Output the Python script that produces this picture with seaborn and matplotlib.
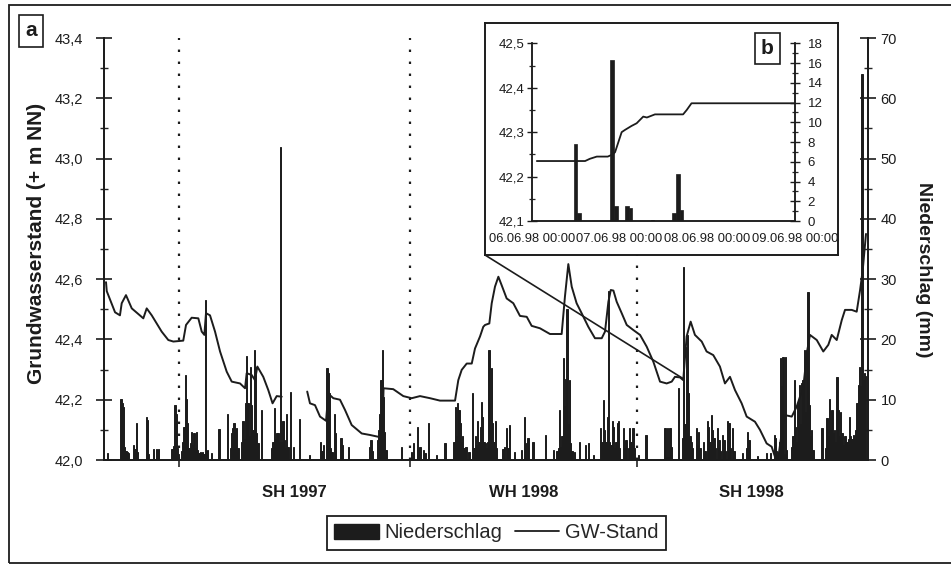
import matplotlib
matplotlib.use("Agg")
import matplotlib.pyplot as plt
import matplotlib.transforms as mtransforms
import numpy as np
import pandas as pd
import seaborn as sns
from matplotlib.ticker import MultipleLocator, FuncFormatter, FixedLocator
from matplotlib.patches import Patch, Rectangle, ConnectionPatch
from matplotlib.lines import Line2D

sns.set_style("white")
plt.rcParams["font.family"] = ["Liberation Sans", "DejaVu Sans"]

# ---------------- data (days since 04.03.1997) ----------------
rain_day = [1, 12, 13, 14, 15, 16, 17, 18, 22, 23, 24, 25, 32, 33, 34, 38, 40, 42,
            52, 53, 54, 55, 56, 57, 58, 60, 61, 62, 63, 64, 65, 66, 67, 68, 69, 70, 71, 72, 73, 74, 75, 76, 77, 78, 79, 80, 81, 84,
            90, 97, 99, 100, 101, 102, 103, 104, 105, 108, 109, 110, 111, 112, 113, 114, 115, 116, 117, 118, 119, 120, 121, 124,
            132, 133, 134, 135, 136, 137, 138, 139, 140, 141, 142, 143, 144, 145, 147, 149, 154, 162, 171, 172, 173,
            176, 177, 178, 179, 180, 182, 183, 187, 188, 193, 210, 211, 212, 216, 217, 218, 219, 220, 221, 222, 223, 235,
            243, 245, 248, 250, 253, 254, 257, 263, 270, 277, 278, 279, 280, 281, 282, 283, 284, 285, 286, 287, 289,
            292, 293, 294, 295, 296, 297, 298, 299, 300, 301, 302, 303, 304, 305, 306, 307, 308, 309, 310, 311, 316, 317, 319, 320, 321, 325,
            331, 333, 334, 336, 340, 350, 356, 359, 360, 361, 362, 363, 364, 365, 366, 367, 368, 369, 370, 371, 373, 377, 382, 384, 388,
            394, 395, 396, 397, 398, 399, 400, 401, 402, 403, 404, 405, 406, 407, 408, 409, 412, 413, 414, 416, 417, 418, 419, 420, 421, 424, 430,
            445, 446, 447, 448, 449, 450, 456, 459, 460, 461, 462, 463, 464, 465, 466, 467, 470, 471, 472, 473, 476, 477,
            479, 480, 481, 482, 483, 484, 485, 487, 488, 489, 491, 492, 493, 495, 496, 497, 499, 500, 507, 510, 511, 512, 519, 526, 529,
            532, 533, 534, 536, 537, 538, 539, 540, 541, 542, 546, 547, 548, 549, 550, 551, 552, 553, 554, 555, 556, 557, 558, 559, 560, 561, 562, 563,
            570, 573, 574, 575, 576, 577, 578, 579, 580, 581, 582, 583, 584, 585, 586, 587, 588, 589, 590, 591, 592, 593, 594, 595, 596, 597, 598, 599, 600, 601, 602, 603, 604, 605]
rain_mm = [1.1, 10.2, 9.4, 8.8, 2.2, 1.5, 1.4, 1.2, 2.5, 1.8, 6.1, 1.4, 7.2, 6.6, 1.0, 1.9, 1.9, 1.9,
           1.9, 1.9, 2.4, 9.1, 7.7, 2.0, 1.0, 1.5, 3.0, 5.5, 14.1, 10.2, 6.1, 2.0, 2.8, 4.7, 2.5, 4.4, 2.0, 4.7, 1.7, 1.2, 1.4, 1.2, 1.4, 1.0, 26.5, 1.5, 1.7, 1.2,
           5.1, 7.7, 2.0, 4.5, 5.3, 6.1, 5.0, 5.3, 2.0, 3.0, 6.4, 3.5, 9.4, 17.2, 9.4, 4.0, 15.5, 9.1, 5.0, 18.2, 15.5, 4.4, 2.8, 8.3,
           2.0, 3.0, 8.7, 3.5, 4.4, 4.4, 3.0, 52.0, 3.0, 6.4, 3.3, 2.0, 7.7, 2.2, 11.3, 2.2, 6.8, 0.8, 3.0, 1.5, 2.5,
           15.2, 14.4, 11.1, 2.0, 1.4, 7.7, 4.4, 3.6, 2.5, 2.2, 2.2, 3.3, 1.5, 3.3, 5.0, 7.7, 13.3, 18.2, 10.5, 4.7, 1.7, 2.2,
           1.4, 2.8, 5.5, 2.2, 1.7, 1.1, 6.1, 0.8, 2.8, 3.0, 8.8, 4.0, 9.4, 8.3, 6.1, 3.0, 3.9, 2.0, 2.2, 2.2, 1.4,
           11.1, 2.0, 3.9, 2.5, 6.4, 3.0, 5.5, 9.7, 7.2, 3.0, 2.8, 2.0, 3.0, 18.2, 5.0, 15.2, 6.1, 3.0, 6.4, 2.0, 1.9, 2.2, 5.3, 2.0, 5.8, 1.4,
           1.7, 7.2, 2.8, 3.6, 3.0, 4.1, 1.7, 1.5, 2.0, 8.3, 2.2, 4.0, 16.9, 9.0, 13.5, 25.0, 6.0, 13.3, 2.8, 1.5, 1.4, 3.0, 2.5, 2.8, 0.8,
           5.3, 3.0, 9.9, 5.0, 3.0, 7.2, 28.0, 3.0, 2.5, 6.4, 5.5, 2.0, 3.0, 6.1, 6.4, 2.0, 5.3, 2.0, 3.3, 2.0, 5.3, 3.0, 5.3, 5.3, 2.0, 0.8, 4.1,
           5.3, 0.5, 5.3, 0.5, 5.3, 2.2, 11.9, 3.6, 32.0, 6.0, 18.8, 20.7, 11.1, 3.9, 3.0, 2.0, 5.3, 2.5, 4.7, 2.0, 3.0, 1.5,
           6.4, 5.5, 3.0, 7.5, 5.0, 3.6, 2.0, 5.3, 3.3, 1.5, 4.1, 3.3, 1.5, 6.4, 6.1, 2.0, 5.3, 1.5, 1.1, 2.0, 4.7, 3.3, 0.6, 1.1, 1.1,
           4.1, 3.6, 1.5, 3.0, 16.9, 12.2, 17.1, 1.0, 17.1, 1.7, 2.2, 4.0, 13.3, 5.5, 3.0, 9.4, 12.4, 6.0, 12.7, 13.3, 18.2, 8.0, 18.2, 27.9, 9.1, 4.0, 5.0, 1.7,
           5.3, 2.0, 6.9, 4.0, 10.2, 5.0, 8.3, 4.4, 5.0, 3.0, 13.8, 8.3, 4.0, 8.0, 4.4, 2.5, 3.9, 3.9, 3.0, 3.5, 7.2, 3.9, 3.5, 4.1, 3.5, 5.0, 9.4, 12.4, 15.5, 12.2, 64.0, 13.3, 14.4, 14.0]

gw1_day = [0, 0.6, 7.2, 11.1, 12.5, 15.9, 20.5, 29.7, 32.4, 36.4,
           44.3, 49.6, 53.6, 61.5, 63.7, 68.2, 73.5, 76.2, 78.3, 79.6,
           82.8, 86.8, 90.8, 96.1, 100.1, 106.7, 110.7, 112.0, 116.0, 118.6,
           120.5, 125.2, 129.2, 132.6, 135.9, 139.9]
gw1_level = [42.59, 42.56, 42.49, 42.48, 42.52, 42.547, 42.503, 42.47, 42.503, 42.48,
             42.426, 42.398, 42.393, 42.396, 42.448, 42.472, 42.47, 42.426, 42.415, 42.487,
             42.48, 42.426, 42.36, 42.293, 42.26, 42.254, 42.238, 42.288, 42.282, 42.265,
             42.31, 42.276, 42.232, 42.188, 42.212, 42.21]
gw2_day = [160.2, 162.4, 166.4, 170.4, 175.2, 177.0, 181.0, 186.3, 190.3, 195.6,
           203.6, 210.2, 216.8, 220.0, 221.0, 228.7, 236.7, 243.4, 250.0, 258.0,
           265.9, 277.9, 280.5, 283.2, 287.2, 291.2, 293.8, 297.8, 300.4, 301.8,
           305.2, 307.1, 309.7, 312.4, 315.0, 319.0, 324.3, 329.6, 335.0, 338.9,
           345.5, 353.5, 362.8, 365.4, 368.1, 370.8, 374.7, 378.7, 384.0, 389.3,
           394.7, 397.3, 400.0, 401.9, 404.0, 406.6, 410.6, 414.6, 419.9, 425.2,
           430.5, 435.8, 441.1, 446.4, 450.4, 453.0, 457.0, 459.6, 462.3, 465.5,
           468.9, 474.3, 478.2, 483.5, 488.8, 492.8, 496.8, 500.8, 506.1, 510.1,
           516.7, 520.7, 526.0, 530.0, 532.6, 535.0, 539.0, 540.6, 546.0, 549.9,
           555.2, 558.4, 560.5, 565.9, 571.1, 575.1, 577.8, 581.8, 585.8, 588.4,
           593.7, 597.7, 600.4, 602.5, 605.1]
gw2_level = [42.227, 42.188, 42.182, 42.144, 42.13, 42.22, 42.205, 42.2, 42.166, 42.116,
             42.088, 42.083, 42.077, 42.08, 42.238, 42.235, 42.212, 42.205, 42.212, 42.205,
             42.197, 42.197, 42.265, 42.299, 42.32, 42.32, 42.37, 42.41, 42.442, 42.448,
             42.453, 42.52, 42.575, 42.608, 42.58, 42.536, 42.52, 42.478, 42.475, 42.445,
             42.437, 42.418, 42.418, 42.542, 42.65, 42.575, 42.52, 42.487, 42.442, 42.404,
             42.404, 42.426, 42.525, 42.564, 42.562, 42.525, 42.487, 42.448, 42.431, 42.415,
             42.376, 42.326, 42.26, 42.254, 42.26, 42.276, 42.274, 42.265, 42.41, 42.459,
             42.415, 42.393, 42.36, 42.348, 42.31, 42.254, 42.276, 42.232, 42.188, 42.144,
             42.127, 42.1, 42.055, 42.044, 42.011, 42.0, 42.12, 42.149, 42.144, 42.177,
             42.243, 42.365, 42.415, 42.398, 42.36, 42.382, 42.415, 42.398, 42.464, 42.498,
             42.498, 42.492, 42.564, 42.63, 42.75]

season_bounds = [58, 242, 423]          # 01.05.97, 01.11.97, 01.05.98
season_labels = ["SH 1997", "WH 1998", "SH 1998"]
season_end = 605
zoom_day, zoom_level = 459.5, 42.27     # 06.06.98 in the main series

# inset: hours since 06.06.98 00:00
ins_hour = [12, 13, 22, 23, 26, 27, 33, 39, 40, 41]
ins_mm = [7.8, 0.8, 16.3, 1.5, 1.5, 1.3, 0.1, 0.8, 4.8, 1.1]
ins_t = [1.4, 14.6, 15.9, 17.8, 20.8, 22.2, 22.8, 24.6, 25.5, 27.3, 28.7, 30.5, 31.5, 33.7, 41.4, 42.4, 43.7, 72]
ins_level = [42.235, 42.235, 42.24, 42.245, 42.245, 42.25, 42.255, 42.30, 42.305, 42.314,
             42.32, 42.335, 42.333, 42.34, 42.34, 42.35, 42.365, 42.365]
ins_ticklabels = ["06.06.98 00:00", "07.06.98 00:00", "08.06.98 00:00", "09.06.98 00:00"]

# ---------------- figure ----------------
INK = "#1c1c1c"
W, H = 951, 566
fig = plt.figure(figsize=(W / 100, H / 100), dpi=100)
fx = lambda px: px / W
fy = lambda py: 1 - py / H
comma = FuncFormatter(lambda v, p: f"{v:.1f}".replace(".", ","))

ax = fig.add_axes([fx(104), fy(460), (868 - 104) / W, (460 - 38) / H])
rain_df = pd.DataFrame({"day": rain_day, "mm": rain_mm})
sns.barplot(data=rain_df, x="day", y="mm", native_scale=True, orient="x", width=1.0,
            color=INK, saturation=1, errorbar=None, linewidth=0.7, edgecolor=INK, ax=ax)

axg = ax.twinx()
gw_df = pd.concat([
    pd.DataFrame({"day": gw1_day, "level": gw1_level, "seg": 0}),
    pd.DataFrame({"day": gw2_day, "level": gw2_level, "seg": 1}),
])
sns.lineplot(data=gw_df, x="day", y="level", units="seg", estimator=None, sort=False,
             color=INK, lw=1.4, legend=False, ax=axg)

ax.set_xlim(-1.6, 606.7)
ax.set_ylim(0, 70)
axg.set_ylim(42.0, 43.4)

# rain axis on the right
ax.yaxis.tick_right()
ax.yaxis.set_label_position("right")
ax.yaxis.set_major_locator(MultipleLocator(10))
ax.yaxis.set_minor_locator(MultipleLocator(5))
ax.tick_params(axis="y", which="major", direction="inout", length=11, width=1.2, pad=3.5,
               labelsize=10.5, colors=INK, left=False, right=True)
ax.tick_params(axis="y", which="minor", direction="inout", length=6, width=1.0, left=False, right=True)
ax.set_ylabel("Niederschlag (mm)", rotation=-90, fontsize=14, fontweight="bold",
              va="center", ha="center", color=INK)
ax.yaxis.set_label_coords(1.072, 0.45)

# GW axis on the left
axg.yaxis.tick_left()
axg.yaxis.set_label_position("left")
axg.yaxis.set_major_locator(MultipleLocator(0.2))
axg.yaxis.set_minor_locator(MultipleLocator(0.1))
axg.yaxis.set_major_formatter(comma)
axg.tick_params(axis="y", which="major", direction="inout", length=11, width=1.2, pad=9.5,
                labelsize=10.5, colors=INK, left=True, right=False)
axg.tick_params(axis="y", which="minor", direction="inout", length=6, width=1.0, left=True, right=False)
axg.set_ylabel("Grundwasserstand (+ m NN)", fontsize=15, fontweight="bold",
               va="center", ha="center", color=INK)
axg.yaxis.set_label_coords(-0.089, 0.512)

# x axis: only marks at the half-year boundaries
ax.xaxis.set_major_locator(FixedLocator(season_bounds))
ax.set_xticklabels([])
ax.set_xlabel("")
ax.tick_params(axis="x", which="major", direction="out", length=5, width=1.2, bottom=True)
for a in (ax, axg):
    a.spines["top"].set_visible(False)
    for s in ("left", "right", "bottom"):
        a.spines[s].set_linewidth(1.3)
        a.spines[s].set_color(INK)
    a.grid(False)

for b in season_bounds:
    ax.axvline(b, color=INK, lw=1.6, ls=(0, (1.1, 4.3)), zorder=0.5)

blend = mtransforms.blended_transform_factory(ax.transData, ax.transAxes)
edges = season_bounds + [season_end]
for lab, a0, a1 in zip(season_labels, edges[:-1], edges[1:]):
    ax.text((a0 + a1) / 2, -0.078, lab, transform=blend, ha="center", va="center",
            fontsize=12, fontweight="bold", color=INK)

# ---------------- inset (b) ----------------
box = fig.add_axes([fx(485), fy(255), (838 - 485) / W, (255 - 23) / H], zorder=5)
box.set_xticks([]); box.set_yticks([])
box.set_facecolor("white")
for s in box.spines.values():
    s.set_linewidth(1.4); s.set_color(INK)

iax = fig.add_axes([fx(531.7), fy(221), (795 - 531.7) / W, (221 - 43.3) / H], zorder=6)
iax.patch.set_alpha(0)
ins_df = pd.DataFrame({"hour": ins_hour, "mm": ins_mm})
sns.barplot(data=ins_df, x="hour", y="mm", native_scale=True, orient="x", width=1.0,
            color=INK, saturation=1, errorbar=None, linewidth=0.5, edgecolor=INK, ax=iax)
iaxg = iax.twinx()
iaxg.set_zorder(7)
iaxg.patch.set_visible(False)
sns.lineplot(x=ins_t, y=ins_level, color=INK, lw=1.3, ax=iaxg, legend=False)

iax.set_xlim(0, 72)
iax.set_ylim(0, 18)
iaxg.set_ylim(42.1, 42.5)
iax.yaxis.tick_right()
iax.yaxis.set_major_locator(MultipleLocator(2))
iax.yaxis.set_minor_locator(MultipleLocator(1))
iax.tick_params(axis="y", which="major", direction="inout", length=7, width=1.0, pad=5.5,
                labelsize=9.5, colors=INK, left=False, right=True)
iax.tick_params(axis="y", which="minor", direction="inout", length=4, width=0.9, left=False, right=True)
iax.set_ylabel(""); iax.set_xlabel("")
iax.xaxis.set_major_locator(FixedLocator([0, 24, 48, 72]))
iax.set_xticklabels(ins_ticklabels)
iax.xaxis.set_minor_locator(MultipleLocator(6))
iax.tick_params(axis="x", which="major", direction="inout", length=7, width=1.0, pad=5,
                labelsize=9.3, colors=INK)
iax.tick_params(axis="x", which="minor", direction="inout", length=4, width=0.9)
iaxg.yaxis.tick_left()
iaxg.yaxis.set_major_locator(MultipleLocator(0.1))
iaxg.yaxis.set_minor_locator(MultipleLocator(0.05))
iaxg.yaxis.set_major_formatter(comma)
iaxg.tick_params(axis="y", which="major", direction="inout", length=7, width=1.0, pad=1.5,
                 labelsize=9.5, colors=INK, left=True, right=False)
iaxg.tick_params(axis="y", which="minor", direction="inout", length=4, width=0.9, left=True, right=False)
iaxg.set_ylabel("")
for a in (iax, iaxg):
    a.spines["top"].set_visible(False)
    for s in ("left", "right", "bottom"):
        a.spines[s].set_linewidth(1.1)
        a.spines[s].set_color(INK)
    a.grid(False)

con = ConnectionPatch(xyA=(fx(485), fy(255)), coordsA="figure fraction",
                      xyB=(zoom_day, zoom_level), coordsB="data", axesB=axg,
                      color=INK, lw=1.2)
con.set_zorder(3)
fig.add_artist(con)

# ---------------- panel letters, legend, frame ----------------
fig.text(fx(31), fy(31), "a", fontsize=15, fontweight="bold", ha="center", va="center",
         color=INK, zorder=10,
         bbox=dict(boxstyle="square,pad=0.3", fc="white", ec=INK, lw=1.2))
fig.text(fx(767.5), fy(48.5), "b", fontsize=15, fontweight="bold", ha="center", va="center",
         color=INK, zorder=10,
         bbox=dict(boxstyle="square,pad=0.3", fc="white", ec=INK, lw=1.2))

handles = [Patch(facecolor=INK, edgecolor=INK), Line2D([], [], color=INK, lw=1.3)]
leg = fig.legend(handles, ["Niederschlag", "GW-Stand"], loc="center",
                 bbox_to_anchor=(fx(496.5), fy(533)), ncol=2, frameon=True, fancybox=False,
                 edgecolor=INK, framealpha=1, fontsize=14.5, handlelength=2.2, handleheight=0.75,
                 handletextpad=0.3, columnspacing=0.6, borderpad=0.35, borderaxespad=0)
leg.get_frame().set_linewidth(1.3)

fig.add_artist(Rectangle((fx(9), fy(563)), 1.2, (563 - 5) / H, transform=fig.transFigure,
                         fill=False, ec=INK, lw=1.3, zorder=0))

fig.savefig("out.png", dpi=100)
